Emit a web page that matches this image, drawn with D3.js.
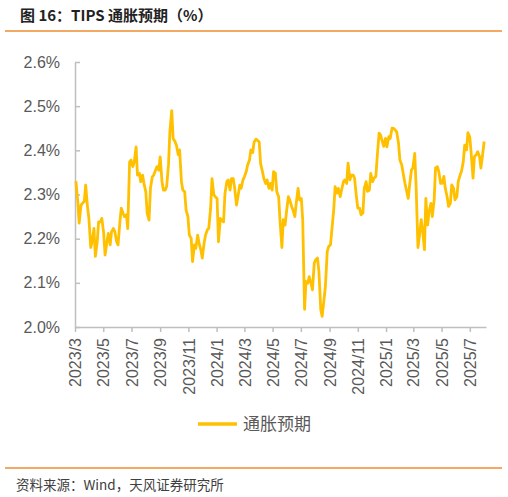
<!DOCTYPE html>
<html>
<head>
<meta charset="utf-8">
<script src="https://cdn.jsdelivr.net/npm/d3@7"></script>
<style>
  body { margin: 0; background: #fff; }
</style>
</head>
<body>
<div id="chart"></div>
<script>
// Chart text
const titleText = "图 16：TIPS 通胀预期（%）";
const sourceText = "资料来源：Wind，天风证券研究所";
const seriesName = "通胀预期";

// Tick labels (every two months) and y ticks
const xTickLabels = ["2023/3", "2023/5", "2023/7", "2023/9", "2023/11", "2024/1", "2024/3",
  "2024/5", "2024/7", "2024/9", "2024/11", "2025/1", "2025/3", "2025/5", "2025/7"];
const yTicks = [2.0, 2.1, 2.2, 2.3, 2.4, 2.5, 2.6];

// Readings on Tuesdays and Fridays, 2023-03-03 .. 2025-08-01
const startDate = "2023-03-03";
const endDate = "2025-08-02";
const expectation = [
  // 2023
  2.33, 2.284, 2.235, 2.276, 2.28, 2.284, 2.321, 2.272, 2.246, 2.18, 2.193, 2.223, 2.16,
  2.193, 2.238, 2.238, 2.246, 2.212, 2.163, 2.193, 2.212, 2.186, 2.216, 2.223, 2.216, 2.193,
  2.186, 2.238, 2.269, 2.257, 2.25, 2.254, 2.223, 2.374, 2.378, 2.363, 2.374, 2.408, 2.344,
  2.348, 2.329, 2.344, 2.325, 2.306, 2.257, 2.242, 2.314, 2.34, 2.344, 2.355, 2.363, 2.355,
  2.385, 2.329, 2.31, 2.31, 2.318, 2.367, 2.442, 2.49, 2.427, 2.42, 2.412, 2.39, 2.401,
  2.329, 2.31, 2.306, 2.265, 2.25, 2.208, 2.201, 2.148, 2.186, 2.178, 2.208, 2.19, 2.174,
  2.156, 2.19, 2.208, 2.22, 2.223, 2.269, 2.336, 2.299, 2.295, 2.291,
  // 2024
  2.193, 2.246, 2.242, 2.238, 2.302, 2.329, 2.333, 2.31, 2.336, 2.336, 2.314, 2.276, 2.295,
  2.321, 2.314, 2.333, 2.34, 2.352, 2.367, 2.378, 2.401, 2.395, 2.419, 2.425, 2.423, 2.419,
  2.37, 2.352, 2.336, 2.325, 2.333, 2.314, 2.325, 2.31, 2.352, 2.348, 2.306, 2.295, 2.24,
  2.18, 2.243, 2.231, 2.261, 2.295, 2.288, 2.273, 2.265, 2.25, 2.28, 2.314, 2.288, 2.291,
  2.243, 2.04, 2.103, 2.099, 2.114, 2.099, 2.084, 2.145, 2.152, 2.156, 2.126, 2.039, 2.024,
  2.062, 2.092, 2.171, 2.182, 2.186, 2.22, 2.265, 2.318, 2.303, 2.314, 2.295, 2.31, 2.329,
  2.333, 2.325, 2.371, 2.333, 2.344, 2.344, 2.337, 2.295, 2.269, 2.269, 2.254, 2.258, 2.314,
  2.329, 2.307, 2.31, 2.348, 2.329, 2.337, 2.341, 2.386, 2.439, 2.435,
  // 2025
  2.42, 2.409, 2.427, 2.408, 2.431, 2.427, 2.45, 2.45, 2.446, 2.442, 2.416, 2.378, 2.367,
  2.348, 2.325, 2.31, 2.291, 2.322, 2.356, 2.36, 2.393, 2.318, 2.18, 2.205, 2.243, 2.22,
  2.175, 2.291, 2.231, 2.261, 2.28, 2.25, 2.288, 2.36, 2.363, 2.352, 2.325, 2.325, 2.341,
  2.314, 2.295, 2.273, 2.28, 2.322, 2.314, 2.288, 2.295, 2.329, 2.344, 2.352, 2.375, 2.412,
  2.401, 2.44, 2.43, 2.393, 2.337, 2.386, 2.39, 2.397, 2.386, 2.36, 2.393, 2.42
];

const parseDay = d3.timeParse("%Y-%m-%d");
const parseTick = d3.timeParse("%Y/%m");
const dates = d3.timeFriday.range(parseDay(startDate), parseDay(endDate))
  .concat(d3.timeTuesday.range(parseDay(startDate), parseDay(endDate)))
  .sort(d3.ascending);
const data = dates.map((d, i) => ({ date: d, value: expectation[i] }));

const svg = d3.select("#chart").append("svg")
  .attr("width", 508)
  .attr("height", 497);

const margin = { top: 62, left: 75, right: 22, bottom: 170 };
const width = 508 - margin.left - margin.right;
const height = 497 - margin.top - margin.bottom;
const latinFont = "'Liberation Sans', Arial, 'Noto Sans CJK SC', sans-serif";
const cjkFont = "'Noto Sans CJK SC', sans-serif";

// Title, rules and source
svg.append("text")
  .attr("x", 20).attr("y", 21)
  .style("font-family", cjkFont)
  .attr("font-size", 15).attr("font-weight", "bold")
  .attr("fill", "#222")
  .text(titleText);
svg.append("line")
  .attr("x1", 5).attr("x2", 502).attr("y1", 31).attr("y2", 31)
  .attr("stroke", "#F08C2E").attr("stroke-width", 1.5);
svg.append("line")
  .attr("x1", 5).attr("x2", 502).attr("y1", 468).attr("y2", 468)
  .attr("stroke", "#F08C2E").attr("stroke-width", 1.5);
svg.append("text")
  .attr("x", 16).attr("y", 490)
  .style("font-family", cjkFont)
  .attr("font-size", 13.5).attr("fill", "#404040")
  .text(sourceText);

const chart = svg.append("g").attr("transform", `translate(${margin.left},${margin.top})`);

const xScale = d3.scaleTime()
  .domain([parseTick(xTickLabels[0]), parseDay("2025-08-05")])
  .range([0, width]);
const yScale = d3.scaleLinear()
  .domain([d3.min(yTicks), d3.max(yTicks)])
  .range([height, 0]);

// Axes
const xAxis = chart.append("g")
  .attr("transform", `translate(0,${height})`)
  .call(d3.axisBottom(xScale)
    .tickValues(xTickLabels.map(parseTick))
    .tickFormat((d, i) => xTickLabels[i])
    .tickSize(5).tickSizeOuter(0));
xAxis.selectAll("text")
  .attr("transform", "rotate(-90)")
  .attr("text-anchor", "end")
  .attr("x", -11).attr("y", 0)
  .attr("dy", "0.35em")
  .style("font-family", latinFont)
  .attr("font-size", 16)
  .attr("fill", "#595959");

const yAxis = chart.append("g")
  .call(d3.axisLeft(yScale)
    .tickValues(yTicks)
    .tickFormat(d => d.toFixed(1) + "%")
    .tickSize(-5).tickSizeOuter(0));
yAxis.selectAll("text")
  .attr("x", -15)
  .style("font-family", latinFont)
  .attr("font-size", 16)
  .attr("fill", "#595959");

svg.selectAll(".domain, .tick line")
  .attr("stroke", "#BFBFBF")
  .attr("stroke-width", 1.5);

// Line
const line = d3.line()
  .x(d => xScale(d.date))
  .y(d => yScale(d.value));

chart.append("path")
  .datum(data)
  .attr("fill", "none")
  .attr("stroke", "#FFC000")
  .attr("stroke-width", 2.8)
  .attr("stroke-linejoin", "round")
  .attr("d", line);

// Legend
const legend = svg.append("g").attr("transform", "translate(198,424)");
legend.append("line")
  .attr("x1", 0).attr("x2", 39)
  .attr("stroke", "#FFC000").attr("stroke-width", 3.5);
legend.append("text")
  .attr("x", 45).attr("y", 0).attr("dy", "0.35em")
  .style("font-family", cjkFont)
  .attr("font-size", 17).attr("fill", "#595959")
  .text(seriesName);
</script>
</body>
</html>
